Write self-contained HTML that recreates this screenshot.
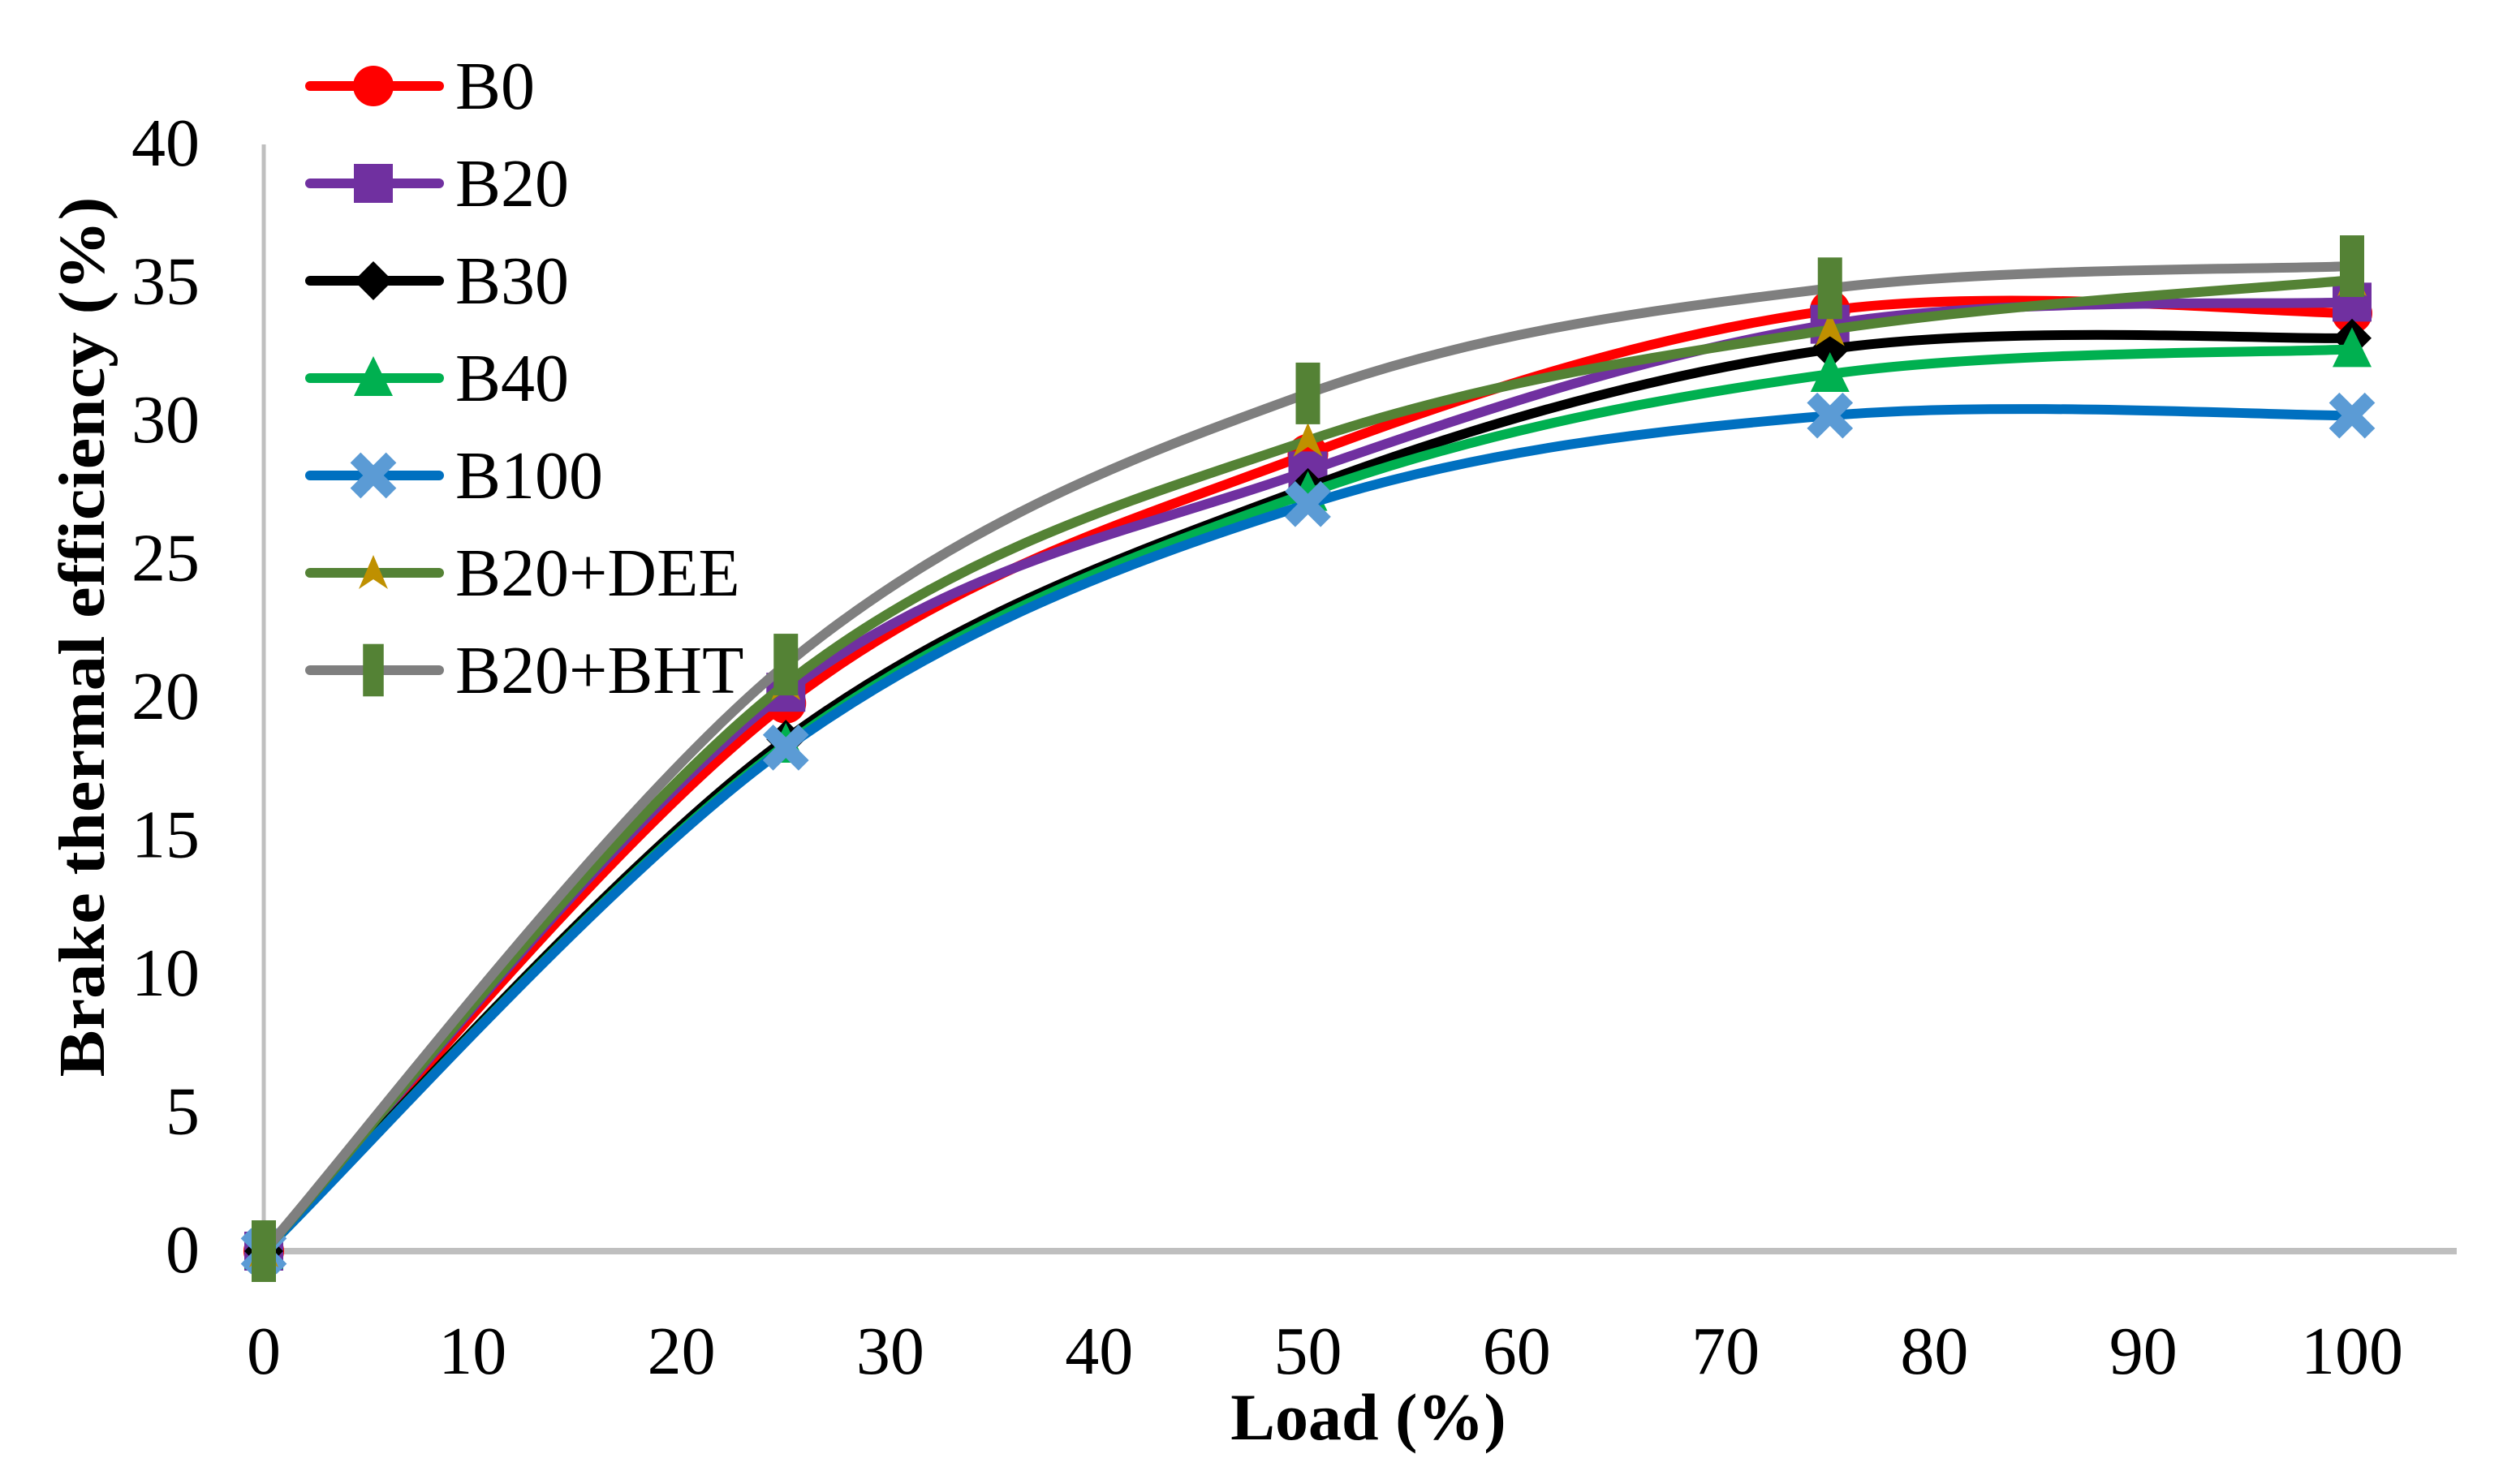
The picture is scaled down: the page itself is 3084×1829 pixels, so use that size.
<!DOCTYPE html>
<html><head><meta charset="utf-8"><style>
html,body{margin:0;padding:0;background:#fff;}
svg{display:block;}
text{font-family:"Liberation Serif",serif;fill:#000;}
</style></head><body>
<svg id="chart" width="3084" height="1829" viewBox="0 0 3084 1829" xmlns="http://www.w3.org/2000/svg">
<g id="axes"></g>
<g id="series"></g>
<g id="legend"></g>
</svg>
<script>
const loads = [0, 25, 50, 75, 100];
const seriesNames = ["B0", "B20", "B30", "B40", "B100", "B20+DEE", "B20+BHT"];
const b0 = [0, 19.8, 28.8, 34.0, 33.9];
const b20 = [0, 20.2, 28.2, 33.5, 34.3];
const b30 = [0, 18.5, 27.6, 32.6, 33.0];
const b40 = [0, 18.3, 27.4, 31.7, 32.6];
const b100 = [0, 18.2, 27.0, 30.2, 30.2];
const b20dee = [0, 20.5, 29.3, 33.3, 35.1];
const b20bht = [0, 21.2, 31.0, 34.8, 35.6];
const xTicks = [0, 10, 20, 30, 40, 50, 60, 70, 80, 90, 100];
const yTicks = [0, 5, 10, 15, 20, 25, 30, 35, 40];

const NS = "http://www.w3.org/2000/svg";
const X0 = 325, X1 = 2898, Y0 = 1542, Y1 = 178;
function xs(v){ return X0 + (v/100)*(X1-X0); }
function ys(v){ return Y0 - (v/40)*(Y0-Y1); }
function mk(tag, attrs, parent){ const e=document.createElementNS(NS,tag); for(const k in attrs) e.setAttribute(k,attrs[k]); parent.appendChild(e); return e; }

const axes = document.getElementById('axes');
let yl = mk('line',{x1:X0,y1:Y1,x2:X0,y2:Y0,stroke:'#bfbfbf','stroke-width':5},axes);


let xl = mk('line',{x1:X0,y1:Y0,x2:3027,y2:Y0,stroke:'#bfbfbf','stroke-width':8},axes);


yTicks.forEach(t=>{
  const e=mk('text',{x:246,y:ys(t)+26,'text-anchor':'end','font-size':84},axes);
  e.textContent=t;
  
  
});
xTicks.forEach(t=>{
  const e=mk('text',{x:xs(t),y:1693,'text-anchor':'middle','font-size':84},axes);
  e.textContent=t;
  
  
});
let xt=mk('text',{x:1686,y:1774,'text-anchor':'middle','font-size':82,'font-weight':'bold'},axes);
xt.textContent='Load (%)';


let yt=mk('text',{x:0,y:0,'text-anchor':'middle','font-size':80,'font-weight':'bold',transform:'translate(128,785) rotate(-90)',textLength:1085,lengthAdjust:'spacingAndGlyphs'},axes);
yt.textContent='Brake thermal efficiency (%)';



function smoothPath(pts){
  let d='M'+pts[0][0]+','+pts[0][1];
  for(let i=0;i<pts.length-1;i++){
    const p0=pts[i-1]||pts[i], p1=pts[i], p2=pts[i+1], p3=pts[i+2]||pts[i+1];
    const c1=[p1[0]+(p2[0]-p0[0])/6, p1[1]+(p2[1]-p0[1])/6];
    const c2=[p2[0]-(p3[0]-p1[0])/6, p2[1]-(p3[1]-p1[1])/6];
    d+=' C'+c1[0]+','+c1[1]+' '+c2[0]+','+c2[1]+' '+p2[0]+','+p2[1];
  }
  return d;
}
function marker(type,cx,cy,parent,scale){
  const s=scale||1; let e;
  if(type==='circle') e=mk('circle',{cx:cx,cy:cy,r:25*s,fill:'#ff0000'},parent);
  else if(type==='square') e=mk('rect',{x:cx-24*s,y:cy-24*s,width:48*s,height:48*s,fill:'#7030a0'},parent);
  else if(type==='diamond') e=mk('polygon',{points:`${cx},${cy-24*s} ${cx+24*s},${cy} ${cx},${cy+24*s} ${cx-24*s},${cy}`,fill:'#000'},parent);
  else if(type==='triangle') e=mk('polygon',{points:`${cx},${cy-27*s} ${cx+24*s},${cy+22*s} ${cx-24*s},${cy+22*s}`,fill:'#00b050'},parent);
  else if(type==='x') e=mk('path',{d:`M${cx-22*s},${cy-22*s} L${cx+22*s},${cy+22*s} M${cx+22*s},${cy-22*s} L${cx-22*s},${cy+22*s}`,stroke:'#5b9bd5','stroke-width':18*s,'stroke-linecap':'butt'},parent);
  else if(type==='dee') e=mk('polygon',{points:`${cx},${cy-22*s} ${cx+18*s},${cy+20*s} ${cx},${cy+8*s} ${cx-18*s},${cy+20*s}`,fill:'#bf9000'},parent);
  else if(type==='bar') e=mk('rect',{x:cx-15*s,y:cy-38*s,width:30*s,height:76*s,fill:'#548235'},parent);
  return e;
}
const allData=[b0,b20,b30,b40,b100,b20dee,b20bht];
const colors=['#ff0000','#7030a0','#000000','#00b050','#0070c0','#548235','#7f7f7f'];
const mtypes=['circle','square','diamond','triangle','x','dee','bar'];
const sg=document.getElementById('series');
allData.forEach((vals,si)=>{
  const g=mk('g',{},sg);
  
  
  const pts=vals.map((v,i)=>[xs(loads[i]),ys(v)]);
  const p=mk('path',{d:smoothPath(pts),fill:'none',stroke:colors[si],'stroke-width':12,'stroke-linecap':'round','stroke-linejoin':'round'},g);
  
  
  pts.forEach(pt=>{
    const m=marker(mtypes[si],pt[0],pt[1],g);
    
    
  });
});
const lg=document.getElementById('legend');
seriesNames.forEach((n,i)=>{
  const y=106+i*120;
  const g=mk('g',{},lg);
  
  
  mk('line',{x1:382,y1:y,x2:541,y2:y,stroke:colors[i],'stroke-width':12,'stroke-linecap':'round'},g);
  marker(mtypes[i],460,y,g,i===6?0.85:1);
  const t=mk('text',{x:561,y:y+28,'font-size':84},g);
  t.textContent=n;
});
</script>
</body></html>
